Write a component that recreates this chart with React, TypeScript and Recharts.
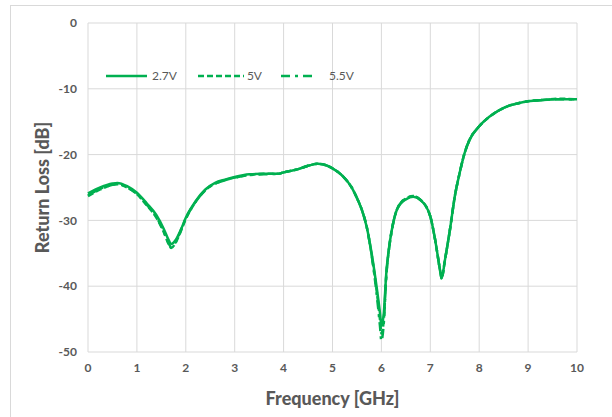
import React from "react";
import { LineChart, Line, XAxis, YAxis, CartesianGrid } from "recharts";

const freq = [
  0, 0.25, 0.5, 0.6, 0.8, 1.0, 1.2, 1.4, 1.55, 1.65, 1.7, 1.8, 1.9, 2.0, 2.2, 2.4, 2.6, 2.8, 3.0, 3.3,
  3.6, 3.9, 4.0, 4.3, 4.5, 4.7, 4.9, 5.0, 5.2, 5.4, 5.5, 5.6, 5.7, 5.8, 5.9, 5.97, 6.0, 6.05, 6.1, 6.15,
  6.2, 6.3, 6.4, 6.5, 6.65, 6.8, 6.95, 7.0, 7.1, 7.2, 7.23, 7.3, 7.4, 7.5, 7.6, 7.7, 7.8, 8.0, 8.2, 8.4,
  8.6, 8.8, 9.0, 9.3, 9.6, 10,
];

const rl27 = [
  -25.9, -25.0, -24.4, -24.3, -24.8, -25.8, -27.4, -29.2, -31.3, -33.0, -33.6, -32.9, -31.4, -29.6, -27.1,
  -25.3, -24.3, -23.8, -23.4, -23.0, -22.9, -22.9, -22.7, -22.2, -21.7, -21.4, -21.7, -22.1, -23.2, -25.1,
  -26.6, -28.4, -31.0, -35.0, -40.0, -44.0, -46.0, -44.0, -38.0, -34.5, -32.0, -28.7, -27.4, -26.8, -26.4,
  -26.9, -28.4, -29.4, -33.0, -37.6, -38.8, -36.0, -31.5, -26.4, -22.8, -19.8, -17.8, -15.7, -14.3, -13.3,
  -12.6, -12.2, -11.9, -11.7, -11.6, -11.6,
];

const rl5 = [
  -26.3, -25.3, -24.6, -24.5, -25.0, -26.0, -27.7, -29.6, -31.8, -33.6, -34.2, -33.3, -31.6, -29.8, -27.2,
  -25.4, -24.4, -23.9, -23.5, -23.1, -22.9, -22.9, -22.7, -22.2, -21.7, -21.4, -21.7, -22.1, -23.2, -25.1,
  -26.6, -28.4, -31.0, -35.2, -40.5, -45.0, -47.2, -45.0, -38.3, -34.6, -32.0, -28.7, -27.3, -26.7, -26.3,
  -26.9, -28.4, -29.4, -33.0, -37.6, -38.8, -36.0, -31.5, -26.4, -22.8, -19.8, -17.8, -15.7, -14.3, -13.3,
  -12.6, -12.2, -11.9, -11.7, -11.5, -11.6,
];

const rl55 = [
  -26.2, -25.2, -24.6, -24.4, -25.0, -26.0, -27.6, -29.5, -31.7, -33.5, -34.1, -33.2, -31.5, -29.7, -27.2,
  -25.4, -24.4, -23.9, -23.5, -23.1, -23.0, -22.9, -22.7, -22.2, -21.7, -21.4, -21.7, -22.1, -23.2, -25.1,
  -26.6, -28.4, -31.0, -35.3, -41.0, -46.0, -48.3, -45.5, -38.5, -34.7, -32.1, -28.7, -27.3, -26.7, -26.3,
  -26.9, -28.4, -29.4, -33.0, -37.6, -38.8, -36.0, -31.5, -26.4, -22.8, -19.8, -17.8, -15.7, -14.3, -13.3,
  -12.6, -12.2, -11.9, -11.7, -11.6, -11.6,
];

const xTicks = [0, 1, 2, 3, 4, 5, 6, 7, 8, 9, 10];
const yTicks = [0, -10, -20, -30, -40, -50];

const data = freq.map((f, i) => ({ f, v27: rl27[i], v5: rl5[i], v55: rl55[i] }));

const GREEN = "#00B050";
const TEXT = "#595959";
const FONT = "Lato, 'Open Sans', sans-serif";

const legendItems = [
  { label: "2.7V", dash: undefined as string | undefined, w: 41, gap: 5, after: 21 },
  { label: "5V", dash: "6 3", w: 46, gap: 3, after: 19 },
  { label: "5.5V", dash: "9 5 3 5", w: 36, gap: 12, after: 0 },
];

// legend drawn as an overlay so it doesn't steal plot height
const LegendBox = () => (
  <div
    style={{
      position: "absolute",
      left: 106,
      top: 68,
      display: "flex",
      alignItems: "center",
      fontFamily: FONT,
      fontSize: 12,
      color: TEXT,
    }}
  >
    {legendItems.map((it, i) => (
      <div key={i} style={{ display: "flex", alignItems: "center", marginRight: it.after }}>
        <svg width={it.w} height={6} style={{ marginRight: it.gap }}>
          <line x1={0} y1={3} x2={it.w} y2={3} stroke={GREEN} strokeWidth={2.5} strokeDasharray={it.dash} />
        </svg>
        <span>{it.label}</span>
      </div>
    ))}
  </div>
);

export default function App() {
  return (
    <div style={{ position: "fixed", left: 0, top: 0, width: 612, height: 417, background: "#fff" }}>
      <div
        style={{
          position: "absolute",
          left: 10,
          top: 5,
          width: 612,
          height: 420,
          borderLeft: "1px solid #d9d9d9",
          borderTop: "1px solid #d9d9d9",
        }}
      />
      <div style={{ position: "absolute", left: 0, top: 0 }}>
        <LineChart width={612} height={417} data={data} margin={{ top: 23, right: 35, left: 0, bottom: 0 }}>
          <CartesianGrid stroke="#d9d9d9" strokeWidth={1} />
          <XAxis
            dataKey="f"
            type="number"
            domain={[0, 10]}
            ticks={xTicks}
            height={65}
            axisLine={false}
            tickLine={false}
            tickSize={0}
            tickMargin={11}
            tick={{ fill: TEXT, fontSize: 12, fontFamily: FONT, fontWeight: 700 }}
            label={{
              value: "Frequency [GHz]",
              position: "insideBottom",
              offset: 12,
              fill: TEXT,
              fontSize: 18,
              fontWeight: 900,
              fontFamily: FONT,
            }}
          />
          <YAxis
            type="number"
            domain={[-50, 0]}
            ticks={yTicks}
            width={88}
            axisLine={false}
            tickLine={false}
            tickSize={0}
            tickMargin={11}
            tick={{ fill: TEXT, fontSize: 12, fontFamily: FONT, fontWeight: 700 }}
            label={{
              value: "Return Loss [dB]",
              angle: -90,
              position: "center",
              dx: -1,
              fill: TEXT,
              fontSize: 18,
              fontWeight: 900,
              fontFamily: FONT,
            }}
          />
          <Line dataKey="v27" name="2.7V" type="monotone" stroke={GREEN} strokeWidth={2.5} dot={false} isAnimationActive={false} />
          <Line dataKey="v5" name="5V" type="monotone" stroke={GREEN} strokeWidth={2.5} strokeDasharray="6 3" dot={false} isAnimationActive={false} />
          <Line dataKey="v55" name="5.5V" type="monotone" stroke={GREEN} strokeWidth={2.5} strokeDasharray="9 5 3 5" dot={false} isAnimationActive={false} />
        </LineChart>
      </div>
      <LegendBox />
    </div>
  );
}
